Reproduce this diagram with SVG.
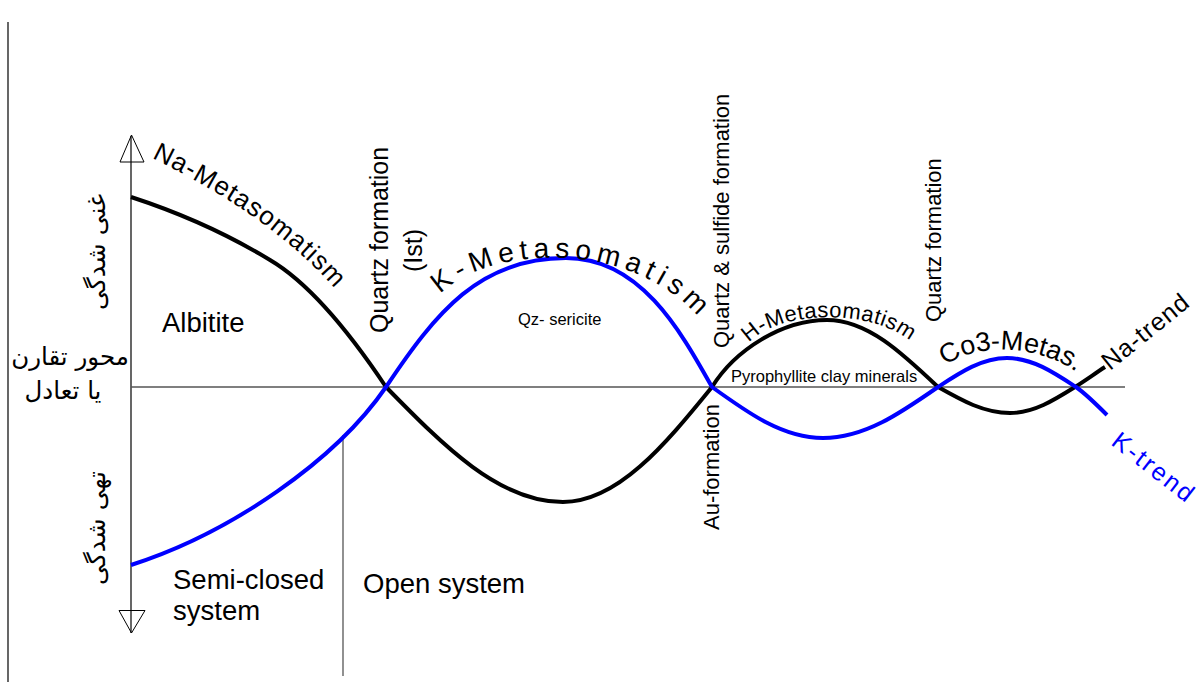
<svg xmlns="http://www.w3.org/2000/svg" width="1201" height="682" viewBox="0 0 1201 682">
<style>
.blk{fill:none;stroke:#000;stroke-width:4;stroke-linejoin:round}
.blu{fill:none;stroke:#0000ff;stroke-width:4;stroke-linejoin:round}
.ax{fill:none;stroke:#000;stroke-width:1.2}
.gr{fill:none;stroke:#555;stroke-width:1.3}
.t{font-family:"Liberation Sans",Arial,sans-serif;fill:#000}
.fa{font-family:"DejaVu Sans","Noto Sans",sans-serif;fill:#000}
</style>
<defs>
<path id="pNa" d="M152,158 C202,183 282,225 342,297"/>
<path id="pK" d="M440,294 C495,242 640,240 705,325"/>
<path id="pH" d="M749,343 C778,310 880,305 920,350"/>
<path id="pCo" d="M946,366 C968,345 1040,340 1084,378"/>
</defs>
<rect width="1201" height="682" fill="#fff"/>
<g id="frame">
<line class="ax" x1="8" y1="22" x2="8" y2="682"/>
</g>
<g id="axes">
<line class="ax" x1="131" y1="136" x2="131" y2="633"/>
<polygon points="131.5,135 120,162 144,162" fill="none" stroke="#000" stroke-width="1"/>
<polygon points="131.5,633 119,610.5 145,610.5" fill="none" stroke="#000" stroke-width="1"/>
<line class="gr" x1="131" y1="387" x2="1125" y2="387"/>
<line class="gr" x1="343" y1="435" x2="343" y2="676"/>
</g>
<g id="connectors">
<path id="na-trend" class="blk" d="M131,197 C177,212 224,232 270,260 C309,283 350,333 386,387 C443.7,445.9 498.9,502 563,502 C617.3,502 664.1,445.9 712,387 C735,350 782,320 827,320 C867.2,320 901.8,352.7 938,387 C961.5,400.3 983.9,413 1010,413 C1033.5,413 1053.8,400.3 1075,387 C1085,380.7 1095,373.5 1105,367"/>
<path id="k-trend" class="blu" d="M131,565 C231,533 336,460 386,387 C436,312 480,258 566,258 C640,258 680,330 712,387 C748.2,413.1 782.8,438 823,438 C864.6,438 900.5,413.1 938,387 C960.5,372.2 982,358 1007,358 C1032,358 1053.5,372.2 1076,387 C1086,394 1097,405 1107,415"/>
</g>
<g id="labels-curved">
<text class="t" font-size="26"><textPath href="#pNa" textLength="226" lengthAdjust="spacing">Na-Metasomatism</textPath></text>
<text class="t" font-size="28"><textPath href="#pK" textLength="282" lengthAdjust="spacing">K-Metasomatism</textPath></text>
<text class="t" font-size="22"><textPath href="#pH" textLength="172" lengthAdjust="spacing">H-Metasomatism</textPath></text>
<text class="t" font-size="27"><textPath href="#pCo" textLength="138" lengthAdjust="spacing">Co3-Metas.</textPath></text>
</g>
<g id="trend-labels">
<text class="t" font-size="25" transform="translate(1110,371) rotate(-39)" textLength="104" lengthAdjust="spacing">Na-trend</text>
<text class="t" font-size="25" style="fill:#0000ff" transform="translate(1110,444) rotate(38)" textLength="96" lengthAdjust="spacing">K-trend</text>
</g>
<g id="vertical-labels">
<text class="t" font-size="25" transform="translate(388,333) rotate(-90)">Quartz formation</text>
<text class="t" font-size="25" transform="translate(421.5,272) rotate(-90)">(Ist)</text>
<text class="t" font-size="22" transform="translate(729,348) rotate(-90)">Quartz &amp; sulfide formation</text>
<text class="t" font-size="22" transform="translate(941,322) rotate(-90)">Quartz formation</text>
<text class="t" font-size="22" transform="translate(719,530) rotate(-90)">Au-formation</text>
</g>
<g id="region-labels">
<text class="t" font-size="27.5" x="162" y="332">Albitite</text>
<text class="t" font-size="16.5" x="518" y="325">Qz- sericite</text>
<text class="t" font-size="16.5" x="731" y="382">Pyrophyllite clay minerals</text>
<text class="t" font-size="27.5" x="173" y="589">Semi-closed</text>
<text class="t" font-size="27.5" x="173" y="620">system</text>
<text class="t" font-size="27.5" x="363" y="593">Open system</text>
</g>
<g id="axis-labels">
<text class="fa" font-size="25" text-anchor="middle" transform="translate(105,252) rotate(-90)">غنی شدگی</text>
<text class="fa" font-size="25" text-anchor="middle" transform="translate(105,528) rotate(-90)">تهی شدگی</text>
<text class="fa" font-size="24.5" text-anchor="middle" x="70" y="365">محور تقارن</text>
<text class="fa" font-size="24.5" text-anchor="middle" x="63" y="399">یا تعادل</text>
</g>
</svg>
